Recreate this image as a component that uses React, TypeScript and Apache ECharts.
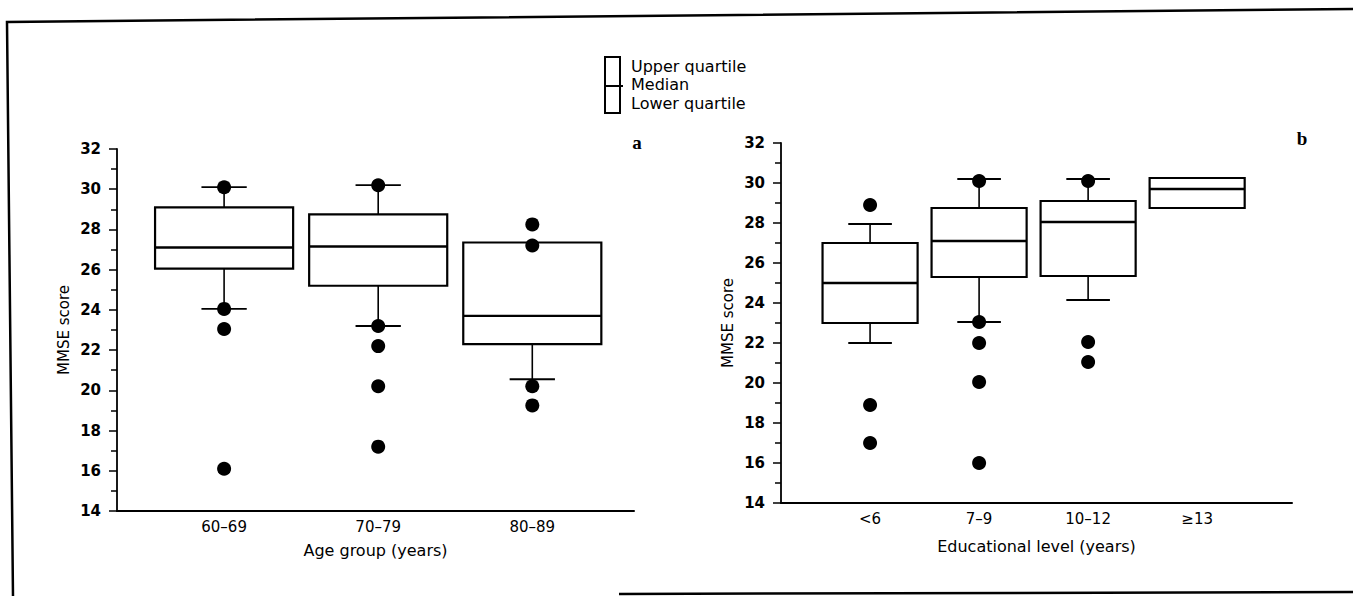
import React, { useEffect, useRef } from 'react';
import * as echarts from 'echarts';

// Panel a: MMSE score by age group
const ageGroups = ['60–69', '70–79', '80–89'];
const ageLowerQuartile = [26.05, 25.2, 22.3];
const ageMedian = [27.1, 27.15, 23.7];
const ageUpperQuartile = [29.1, 28.75, 27.35];
const ageWhiskerLow: (number | null)[] = [24.05, 23.2, 20.55];
const ageWhiskerHigh: (number | null)[] = [30.1, 30.2, null];
const ageOutlierGroup = [1, 1, 1, 1, 2, 2, 2, 2, 2, 3, 3, 3, 3];
const ageOutlierScore = [30.1, 24.05, 23.05, 16.1, 30.2, 23.2, 22.2, 20.2, 17.2, 28.25, 27.2, 20.2, 19.25];

// Panel b: MMSE score by educational level
const eduLevels = ['<6', '7–9', '10–12', '≥13'];
const eduLowerQuartile = [23, 25.3, 25.35, 28.75];
const eduMedian = [25, 27.1, 28.05, 29.7];
const eduUpperQuartile = [27, 28.75, 29.1, 30.25];
const eduWhiskerLow: (number | null)[] = [22, 23.05, 24.15, null];
const eduWhiskerHigh: (number | null)[] = [27.95, 30.2, 30.2, null];
const eduOutlierGroup = [1, 1, 1, 2, 2, 2, 2, 2, 3, 3, 3];
const eduOutlierScore = [28.9, 18.9, 17, 30.1, 23.05, 22, 20.05, 16, 30.1, 22.05, 21.05];

// Axis settings
const scoreMin = 14;
const scoreMax = 32;
const scoreStep = 2;

const legendLabels = ['Upper quartile', 'Median', 'Lower quartile'];

const FONT = 'DejaVu Sans';

function makeBoxRender(
  q1s: number[], meds: number[], q3s: number[],
  lows: (number | null)[], highs: (number | null)[],
  halfBox: number, halfCap: number
) {
  return (params: any, api: any) => {
    const i = params.dataIndex;
    const x = api.value(0);
    const children: any[] = [];
    const addLine = (p1: number[], p2: number[], lw = 2) => {
      children.push({
        type: 'line',
        shape: { x1: p1[0], y1: p1[1], x2: p2[0], y2: p2[1] },
        style: { stroke: '#000', lineWidth: lw },
      });
    };
    if (highs[i] != null) {
      addLine(api.coord([x, q3s[i]]), api.coord([x, highs[i]]), 1.6);
      addLine(api.coord([x - halfCap, highs[i]]), api.coord([x + halfCap, highs[i]]), 1.8);
    }
    if (lows[i] != null) {
      addLine(api.coord([x, q1s[i]]), api.coord([x, lows[i]]), 1.6);
      addLine(api.coord([x - halfCap, lows[i]]), api.coord([x + halfCap, lows[i]]), 1.8);
    }
    const tl = api.coord([x - halfBox, q3s[i]]);
    const br = api.coord([x + halfBox, q1s[i]]);
    children.push({
      type: 'rect',
      shape: { x: tl[0], y: tl[1], width: br[0] - tl[0], height: br[1] - tl[1] },
      style: { stroke: '#000', lineWidth: 2.2, fill: '#fff' },
    });
    addLine(api.coord([x - halfBox, meds[i]]), api.coord([x + halfBox, meds[i]]), 2.4);
    return { type: 'group', children };
  };
}

function yAxisCfg(gridIndex: number) {
  return {
    type: 'value',
    gridIndex,
    min: scoreMin,
    max: scoreMax,
    interval: scoreStep,
    name: 'MMSE score',
    nameLocation: 'middle',
    nameGap: 46,
    nameTextStyle: { fontFamily: FONT, fontSize: 15, color: '#000' },
    axisLine: { show: true, lineStyle: { color: '#000', width: 1.8 } },
    axisTick: { show: true, length: 8, lineStyle: { color: '#000', width: 1.5 } },
    minorTick: { show: true, splitNumber: 2, length: 6, lineStyle: { color: '#000', width: 1.5 } },
    splitLine: { show: false },
    minorSplitLine: { show: false },
    axisLabel: { fontFamily: FONT, fontSize: 15, fontWeight: 'bold', color: '#000', margin: 16 },
  };
}

function xAxisCfg(gridIndex: number, min: number, max: number, cats: string[], name: string, nameGap: number) {
  return {
    type: 'value',
    gridIndex,
    min,
    max,
    name,
    nameLocation: 'middle',
    nameGap,
    nameTextStyle: { fontFamily: FONT, fontSize: 16, color: '#000' },
    axisLine: { show: true, onZero: false, lineStyle: { color: '#000', width: 2 } },
    axisTick: { show: false },
    splitLine: { show: false },
    axisLabel: {
      fontFamily: FONT,
      fontSize: 15,
      color: '#000',
      margin: 8,
      customValues: cats.map((_, i) => i + 1),
      formatter: (v: number) => cats[Math.round(v) - 1] ?? '',
    },
  };
}

export default function App() {
  const ref = useRef<HTMLDivElement>(null);
  useEffect(() => {
    if (!ref.current) return;
    const chart = echarts.init(ref.current, null, { renderer: 'svg' });
    const option: any = {
      animation: false,
      backgroundColor: '#fff',
      grid: [
        { left: 117, top: 149, width: 517, height: 362 },
        { left: 781, top: 143, width: 511, height: 360 },
      ],
      xAxis: [
        xAxisCfg(0, 0.305, 3.66, ageGroups, 'Age group (years)', 31),
        xAxisCfg(1, 0.183, 4.87, eduLevels, 'Educational level (years)', 35),
      ],
      yAxis: [yAxisCfg(0), yAxisCfg(1)],
      series: [
        {
          type: 'custom',
          xAxisIndex: 0,
          yAxisIndex: 0,
          renderItem: makeBoxRender(ageLowerQuartile, ageMedian, ageUpperQuartile, ageWhiskerLow, ageWhiskerHigh, 0.448, 0.147),
          data: ageGroups.map((_, i) => [i + 1, ageLowerQuartile[i], ageMedian[i], ageUpperQuartile[i]]),
          z: 2,
        },
        {
          type: 'scatter',
          xAxisIndex: 0,
          yAxisIndex: 0,
          symbolSize: 14,
          itemStyle: { color: '#000', opacity: 1 },
          data: ageOutlierGroup.map((g, i) => [g, ageOutlierScore[i]]),
          z: 5,
        },
        {
          type: 'custom',
          xAxisIndex: 1,
          yAxisIndex: 1,
          renderItem: makeBoxRender(eduLowerQuartile, eduMedian, eduUpperQuartile, eduWhiskerLow, eduWhiskerHigh, 0.436, 0.2),
          data: eduLevels.map((_, i) => [i + 1, eduLowerQuartile[i], eduMedian[i], eduUpperQuartile[i]]),
          z: 2,
        },
        {
          type: 'scatter',
          xAxisIndex: 1,
          yAxisIndex: 1,
          symbolSize: 14,
          itemStyle: { color: '#000', opacity: 1 },
          data: eduOutlierGroup.map((g, i) => [g, eduOutlierScore[i]]),
          z: 5,
        },
      ],
      graphic: [
        // outer frame
        {
          type: 'polyline',
          shape: { points: [[13, 596], [7, 22], [1353, 9]] },
          style: { stroke: '#000', lineWidth: 2.5, fill: 'none' },
        },
        {
          type: 'line',
          shape: { x1: 619, y1: 594, x2: 1353, y2: 592 },
          style: { stroke: '#000', lineWidth: 2.5 },
        },
        // legend icon
        {
          type: 'rect',
          shape: { x: 605, y: 57, width: 15, height: 56 },
          style: { stroke: '#000', lineWidth: 2, fill: '#fff' },
        },
        {
          type: 'line',
          shape: { x1: 605, y1: 86, x2: 623, y2: 86 },
          style: { stroke: '#000', lineWidth: 2 },
        },
        ...legendLabels.map((t, i) => ({
          type: 'text',
          x: 631,
          y: 66 + i * 18.5,
          style: {
            text: t,
            fontFamily: FONT,
            fontSize: 16,
            fill: '#000',
            verticalAlign: 'middle',
            textAlign: 'left',
          },
        })),
        {
          type: 'text',
          x: 637,
          y: 142,
          style: { text: 'a', fontFamily: 'Liberation Serif', fontWeight: 'bold', fontSize: 19, fill: '#000', textAlign: 'center', verticalAlign: 'middle' },
        },
        {
          type: 'text',
          x: 1302,
          y: 138,
          style: { text: 'b', fontFamily: 'Liberation Serif', fontWeight: 'bold', fontSize: 19, fill: '#000', textAlign: 'center', verticalAlign: 'middle' },
        },
      ],
    };
    chart.setOption(option);
    return () => chart.dispose();
  }, []);
  return (
    <div
      ref={ref}
      style={{ position: 'absolute', left: 0, top: 0, width: 1353, height: 596, background: '#fff' }}
    />
  );
}
